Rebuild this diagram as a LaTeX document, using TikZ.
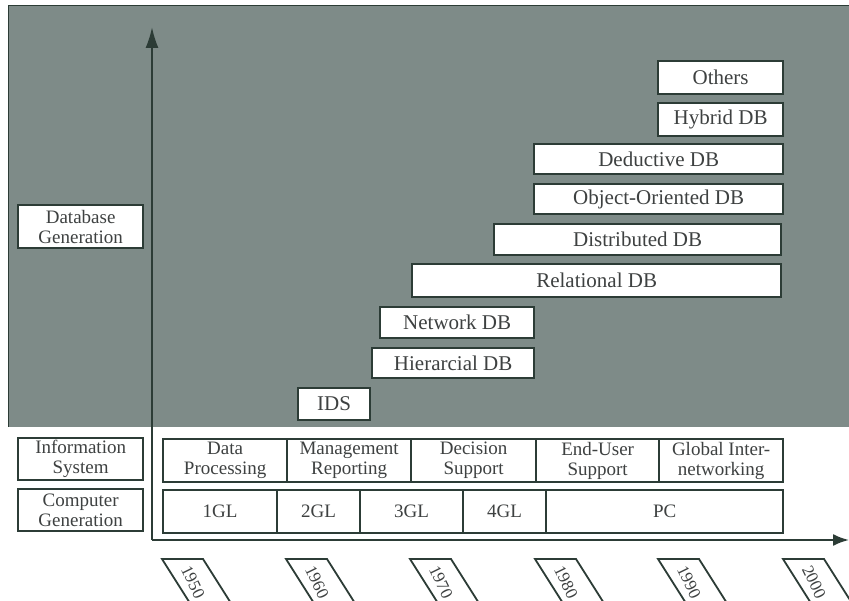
\documentclass[tikz,border=0pt]{standalone}
\usepackage{fontspec}
\setmainfont{Liberation Serif}
\usetikzlibrary{arrows.meta}
\definecolor{panel}{RGB}{126,139,136}
\definecolor{ink}{RGB}{44,60,54}
\definecolor{txt}{RGB}{62,65,65}
\begin{document}
\begin{tikzpicture}[x=1pt,y=-1pt,
  cell/.style={draw=ink, line width=2.3pt, fill=white, text=txt, inner sep=0pt,
    anchor=north west, align=center, font=\fontsize{19}{20}\selectfont},
  dbbox/.style={cell, font=\fontsize{21}{22}\selectfont},
  axis/.style={draw=ink, line width=2pt},
  yeartag/.style={draw=ink, line width=1.8pt, fill=white},
  yearlabel/.style={rotate=-64, text=txt, inner sep=0pt, font=\fontsize{17}{18}\selectfont}]
\useasboundingbox (0,0) rectangle (849,601);
\clip (0,0) rectangle (849,601);

% shaded panel behind the database generations
\fill[panel] (8,6) rectangle (852,427);
\draw[ink, line width=1pt] (8,427) -- (8,6) -- (852,6);

% database generations
\node[dbbox, minimum width=72,  minimum height=32] (ids)  at (297,387) {IDS};
\node[dbbox, minimum width=162, minimum height=30] (hier) at (371,347) {Hierarcial DB};
\node[dbbox, minimum width=154, minimum height=31] (net)  at (379,306) {Network DB};
\node[dbbox, minimum width=369, minimum height=33] (rel)  at (411,263) {Relational DB};
\node[dbbox, minimum width=287, minimum height=31] (dist) at (493,223) {Distributed DB};
\node[dbbox, minimum width=249, minimum height=30] (oo)   at (533,183) {Object-Oriented DB};
\node[dbbox, minimum width=249, minimum height=30] (ded)  at (533,143) {Deductive DB};
\node[dbbox, minimum width=125, minimum height=33] (hyb)  at (657,102) {Hybrid DB};
\node[dbbox, minimum width=125, minimum height=33] (oth)  at (657,60)  {Others};

% row captions
\node[cell, minimum width=125, minimum height=43] (dbgen) at (17,204) {Database\\Generation};
\node[cell, minimum width=125, minimum height=42] (infosys) at (17,437) {Information\\System};
\node[cell, minimum width=125, minimum height=42] (compgen) at (17,488) {Computer\\Generation};

% information systems
\node[cell, minimum width=124, minimum height=43] (dp)  at (162,438) {Data\\Processing};
\node[cell, minimum width=124, minimum height=43] (mr)  at (286,438) {Management\\Reporting};
\node[cell, minimum width=125, minimum height=43] (ds)  at (410,438) {Decision\\Support};
\node[cell, minimum width=123, minimum height=43] (eus) at (535,438) {End-User\\Support};
\node[cell, minimum width=124, minimum height=43] (gi)  at (658,438) {Global Inter-\\networking};

% computer generations
\node[cell, minimum width=114, minimum height=43] (g1) at (162,489) {1GL};
\node[cell, minimum width=83,  minimum height=43] (g2) at (276,489) {2GL};
\node[cell, minimum width=103, minimum height=43] (g3) at (359,489) {3GL};
\node[cell, minimum width=83,  minimum height=43] (g4) at (462,489) {4GL};
\node[cell, minimum width=237, minimum height=43] (pc) at (545,489) {PC};

% axes
\coordinate (origin) at (152,540);
\coordinate (ytip) at (152,27);
\coordinate (xtip) at (849,540);
\draw[axis, -{Latex[length=21pt,width=13pt]}] (origin) -- (ytip);
\draw[axis, -{Latex[length=16pt,width=12pt]}] (origin) -- (xtip);

% year tags along the time axis
\foreach \x/\yr in {162/1950, 286/1960, 410/1970, 535/1980, 658/1990, 783/2000} {
  \draw[yeartag] (\x,559) -- ++(41,0) -- ++(38,60) -- ++(-41,0) -- cycle;
  \node[yearlabel] (yr\yr) at (\x+31,582) {\yr};
}
\end{tikzpicture}
\end{document}
